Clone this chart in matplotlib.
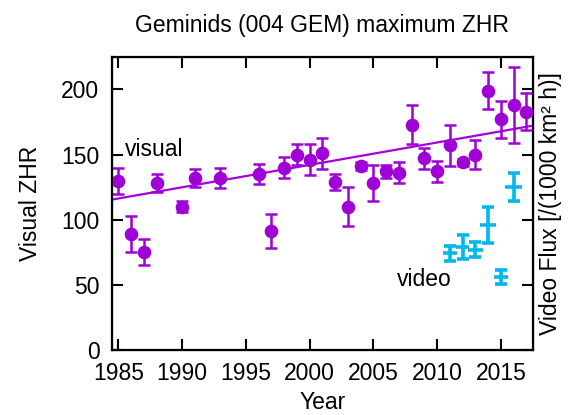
import numpy as np
import matplotlib
matplotlib.use("Agg")
import matplotlib.pyplot as plt

plt.rcParams['font.family'] = ['Liberation Sans', 'DejaVu Sans']

# visual ZHR
vis_year = [1985, 1986, 1987, 1988, 1990, 1991, 1993, 1996, 1997, 1998, 1999,
            2000, 2001, 2002, 2003, 2004, 2005, 2006, 2007, 2008, 2009, 2010,
            2011, 2012, 2013, 2014, 2015, 2016, 2017]
vis_zhr = [130, 89, 75, 128, 110, 132, 132, 135, 91, 140, 150,
           146, 151, 129, 110, 141, 128, 137, 136, 173, 147, 137,
           157, 144, 150, 199, 177, 188, 183]
vis_err = [10, 14, 10, 7, 4.5, 7, 8, 8, 13, 8, 8,
           12, 12, 6, 15, 3, 14, 5, 8, 15, 8, 8,
           16, 2.5, 11, 14, 14, 29, 14]

# video flux (plotted on the same scale)
vid_year = [2011, 2012, 2013, 2014, 2015, 2016]
vid_flux = [74, 79, 77, 96, 56, 125]
vid_yerr = [6, 9, 6, 14, 5.5, 11]
vid_xerr = [0.55, 0.5, 0.6, 0.65, 0.55, 0.65]

# linear fit endpoints
fit_year = [1984, 2018]
fit_zhr = [114.5, 173]

purple = '#9f00d6'
cyan = '#00b8ec'
fs = 16.5

fig = plt.figure(figsize=(5.68, 4.15), dpi=100)
ax = fig.add_axes([0.197, 0.157, 0.741, 0.706])

ax.plot(fit_year, fit_zhr, color='#a600dd', lw=1.6, zorder=2)
ax.errorbar(vis_year, vis_zhr, yerr=vis_err, fmt='o', color=purple,
            ms=8.8, elinewidth=1.8, capsize=4, capthick=1.8, zorder=3)

ax.errorbar(vid_year, vid_flux, xerr=vid_xerr, fmt='none', ecolor=cyan,
            elinewidth=2.6, capsize=0, zorder=3)
ax.errorbar(vid_year, vid_flux, yerr=vid_yerr, fmt='none', ecolor=cyan,
            elinewidth=2.6, capsize=4.2, capthick=2.6, zorder=3)

ax.text(1985.5, 154, 'visual', fontsize=fs, va='center', ha='left')
ax.text(2006.85, 54, 'video', fontsize=fs, va='center', ha='left')

ax.set_xlim(1984.5, 2017.5)
ax.set_ylim(0, 225)
ax.set_xticks(np.arange(1985, 2016, 5))
ax.set_yticks(np.arange(0, 201, 50))
ax.tick_params(direction='in', length=8, width=1.5, labelsize=fs,
               pad=9, top=True)
for s in ax.spines.values():
    s.set_linewidth(1.6)

ax.set_xlabel('Year', fontsize=fs, labelpad=4)
ax.set_ylabel('Visual ZHR', fontsize=fs, labelpad=14)
ax.set_title('Geminids (004 GEM) maximum ZHR', fontsize=fs, pad=18)

ax2 = ax.twinx()
ax2.set_ylim(0, 225)
ax2.set_yticks(np.arange(0, 201, 50))
ax2.set_yticklabels([])
ax2.tick_params(direction='in', length=8, width=1.5)
ax2.set_ylabel('Video Flux [/(1000 km² h)]', fontsize=fs, labelpad=1)

fig.savefig('out.png', dpi=100)
